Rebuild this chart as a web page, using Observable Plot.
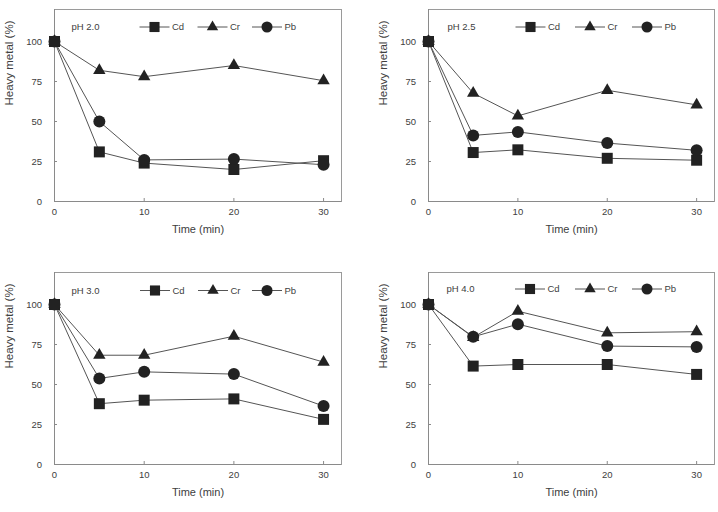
<!DOCTYPE html>
<html>
<head>
<meta charset="utf-8">
<script src="https://cdn.jsdelivr.net/npm/d3@7"></script>
<script src="https://cdn.jsdelivr.net/npm/@observablehq/plot@0.6"></script>
<style>
  html, body { margin: 0; padding: 0; background: #fff; }
  #chart { position: relative; width: 718px; height: 512px; font-family: "Liberation Sans", Arial, sans-serif; }
  #chart svg { position: absolute; overflow: visible; }
</style>
</head>
<body>
<div id="chart"></div>
<script>
// Sampling times (min)
const times = [0, 5, 10, 20, 30];
const metals = ["Cd", "Cr", "Pb"];
const phLabels = ["pH 2.0", "pH 2.5", "pH 3.0", "pH 4.0"];

// Remaining heavy metal (%) per metal, one array per pH
const cdPH20 = [100, 31, 24, 20, 25.5];
const crPH20 = [100, 82, 78, 85, 75.5];
const pbPH20 = [100, 50, 26, 26.5, 23];

const cdPH25 = [100, 30.6, 32.3, 27, 25.8];
const crPH25 = [100, 67.7, 53.5, 69.5, 60.4];
const pbPH25 = [100, 41.3, 43.5, 36.5, 32];

const cdPH30 = [100, 38, 40.2, 41, 28.2];
const crPH30 = [100, 68.3, 68.3, 80.2, 64];
const pbPH30 = [100, 53.8, 57.9, 56.5, 36.5];

const cdPH40 = [100, 61.5, 62.5, 62.5, 56.3];
const crPH40 = [100, 79.5, 95.8, 82.3, 83];
const pbPH40 = [100, 79.8, 87.7, 74, 73.5];

const xTicks = [0, 10, 20, 30];
const yTicks = [0, 25, 50, 75, 100];
const xLabel = "Time (min)";
const yLabel = "Heavy metal (%)";

const seriesByPanel = [
  [cdPH20, crPH20, pbPH20],
  [cdPH25, crPH25, pbPH25],
  [cdPH30, crPH30, pbPH30],
  [cdPH40, crPH40, pbPH40]
];

// Marker style per metal
const markers = {
  Cd: {symbol: "square", r: 6.2},
  Cr: {symbol: "triangle", r: 4.6},
  Pb: {symbol: "circle", r: 6}
};

const INK = "#222";
const LINE = "#555";
const AXIS = "#8a8a8a";
const TEXT = "#404040";

// Panel placement and legend offsets (px from the left axis)
const panels = [
  {left: 0,   top: 0,   ml: 54, mr: 18, leg: [17.5, 100.5, 158.5, 213], legY: 18},
  {left: 359, top: 0,   ml: 69, mr: 4,  leg: [19.5, 102.5, 162, 219],   legY: 18},
  {left: 0,   top: 263, ml: 54, mr: 18, leg: [17.5, 101, 159, 213],     legY: 18.5},
  {left: 359, top: 263, ml: 69, mr: 4,  leg: [18.5, 102, 162, 219],     legY: 17}
];

const W = 359, H = 249, MT = 9, MB = 48;
const chart = document.getElementById("chart");

panels.forEach((p, i) => {
  const rows = [];
  metals.forEach((m, k) => {
    seriesByPanel[i][k].forEach((v, j) => rows.push({metal: m, time: times[j], value: v}));
  });

  const svg = Plot.plot({
    width: W,
    height: H,
    marginLeft: p.ml,
    marginRight: p.mr,
    marginTop: MT,
    marginBottom: MB,
    style: {fontFamily: "Liberation Sans, Arial, sans-serif", fontSize: "9.5px", color: TEXT, background: "transparent"},
    x: {domain: [0, 32]},
    y: {domain: [0, 120]},
    marks: [
      Plot.frame({stroke: "#9a9a9a"}),
      Plot.axisX(xTicks, {tickSize: -3, tickPadding: 10, stroke: AXIS, label: null, fill: TEXT}),
      Plot.axisY(yTicks, {tickSize: -3, tickPadding: 15.5, stroke: AXIS, label: null, fill: TEXT}),
      Plot.ruleX([0], {stroke: AXIS}),
      Plot.ruleY([0], {stroke: AXIS}),
      Plot.line(rows, {x: "time", y: "value", z: "metal", stroke: LINE, strokeWidth: 1}),
      ...metals.map(m => Plot.dot(rows.filter(d => d.metal === m), {
        x: "time", y: "value", symbol: () => markers[m].symbol, r: markers[m].r, fill: INK, stroke: "none"
      })),
      Plot.text([xLabel], {frameAnchor: "bottom", dy: 31, fontSize: 11, fill: TEXT}),
      Plot.text([yLabel], {frameAnchor: "left", dx: -45, rotate: -90, fontSize: 11.5, fill: TEXT})
    ]
  });
  svg.style.left = p.left + "px";
  svg.style.top = p.top + "px";

  // In-plot legend: pH label followed by line+marker samples
  const g = d3.select(svg).append("g")
    .attr("font-size", 9.5).attr("fill", TEXT).attr("text-anchor", "start");
  const ly = MT + p.legY;
  const lx = p.ml;
  g.append("text").attr("x", lx + p.leg[0]).attr("y", ly).attr("dy", "0.35em").text(phLabels[i]);
  metals.forEach((m, k) => {
    const cx = lx + p.leg[k + 1];
    g.append("line").attr("x1", cx - 15).attr("x2", cx + 15).attr("y1", ly).attr("y2", ly)
      .attr("stroke", LINE).attr("stroke-width", 1);
    const sym = {square: d3.symbolSquare, triangle: d3.symbolTriangle, circle: d3.symbolCircle}[markers[m].symbol];
    const r = markers[m].r * 0.92;
    g.append("path").attr("transform", `translate(${cx},${ly})`)
      .attr("d", d3.symbol(sym, Math.PI * r * r)()).attr("fill", INK);
    g.append("text").attr("x", cx + 17.5).attr("y", ly).attr("dy", "0.35em").text(m);
  });

  chart.appendChild(svg);
});
</script>
</body>
</html>
